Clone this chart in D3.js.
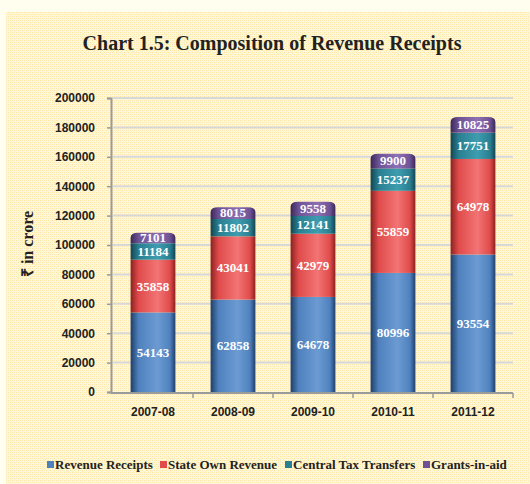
<!DOCTYPE html>
<html><head><meta charset="utf-8">
<script src="https://cdn.jsdelivr.net/npm/d3@7"></script>
<style>html,body{margin:0;padding:0;background:#FFFEEF;}svg{display:block;}</style>
</head><body>
<svg id="c" width="530" height="484"></svg>
<script>
const categories = ["2007-08","2008-09","2009-10","2010-11","2011-12"];
const seriesNames = ["Revenue Receipts","State Own Revenue","Central Tax Transfers","Grants-in-aid"];
const revenueReceipts = [54143,62858,64678,80996,93554];
const stateOwnRevenue = [35858,43041,42979,55859,64978];
const centralTaxTransfers = [11184,11802,12141,15237,17751];
const grantsInAid = [7101,8015,9558,9900,10825];
const yTicks = [0,20000,40000,60000,80000,100000,120000,140000,160000,180000,200000];

const colors = [
  {light:"#6C9BD2", mid:"#4F81BD", dark:"#1F3F6A"},
  {light:"#F27474", mid:"#E04B4B", dark:"#8E2020"},
  {light:"#3E9DAF", mid:"#2A7F92", dark:"#134552"},
  {light:"#8E70B5", mid:"#6E5294", dark:"#3A2858"}
];

const svg = d3.select("#c");
const defs = svg.append("defs");
const pat = defs.append("pattern").attr("id","bgp").attr("width",4).attr("height",4).attr("patternUnits","userSpaceOnUse");
pat.append("rect").attr("width",4).attr("height",4).attr("fill","#FFF6D8");
pat.append("rect").attr("x",0).attr("y",0).attr("width",1).attr("height",1).attr("fill","#FBE6A4");
pat.append("rect").attr("x",2).attr("y",2).attr("width",1).attr("height",1).attr("fill","#FBE6A4");
pat.append("rect").attr("x",2).attr("y",0).attr("width",1).attr("height",1).attr("fill","#FDEFC0");
pat.append("rect").attr("x",0).attr("y",2).attr("width",1).attr("height",1).attr("fill","#FDEFC0");

colors.forEach((c,i)=>{
  const g = defs.append("linearGradient").attr("id","g"+i).attr("x1","0").attr("x2","1").attr("y1","0").attr("y2","0");
  g.append("stop").attr("offset","0%").attr("stop-color",c.dark);
  g.append("stop").attr("offset","18%").attr("stop-color",c.mid);
  g.append("stop").attr("offset","60%").attr("stop-color",c.light);
  g.append("stop").attr("offset","88%").attr("stop-color",c.mid);
  g.append("stop").attr("offset","100%").attr("stop-color",c.dark);
});

svg.append("rect").attr("x",6).attr("y",12).attr("width",524).attr("height",472).attr("fill","url(#bgp)");

svg.append("text").attr("x",272).attr("y",50).attr("text-anchor","middle")
  .style("font-family","'Liberation Serif','Times New Roman',serif").style("font-weight","bold").style("font-size","20px")
  .attr("fill","#222").text("Chart 1.5: Composition of Revenue Receipts");

const x = d3.scaleBand().domain(categories).range([113,513]).paddingInner(0.44).paddingOuter(0.22);
const y = d3.scaleLinear().domain([0,200000]).range([392,98]);

// gridlines
svg.append("g").selectAll("line").data(yTicks.slice(1)).join("line")
  .attr("x1",113).attr("x2",513).attr("y1",d=>y(d)).attr("y2",d=>y(d))
  .attr("stroke","#D8D8D8").attr("stroke-width",2);

// y axis
const yAxis = svg.append("g").attr("transform","translate(111,0)")
  .call(d3.axisLeft(y).tickValues(yTicks).tickSize(4).tickPadding(12).tickFormat(d3.format("d")));
yAxis.select(".domain").attr("stroke","#9A9A9A").attr("stroke-width",2);
yAxis.selectAll(".tick line").attr("stroke","#9A9A9A").attr("stroke-width",1.5);
yAxis.selectAll("text").style("font-family","'Liberation Sans',Arial,sans-serif").style("font-weight","bold").style("font-size","12px").attr("fill","#222");

// x axis
const xAxis = svg.append("g").attr("transform","translate(0,393)")
  .call(d3.axisBottom(x).tickSize(0).tickPadding(14));
xAxis.select(".domain").attr("stroke","#9A9A9A").attr("stroke-width",2).attr("d","M111,0H513");
xAxis.selectAll("text").style("font-family","'Liberation Sans',Arial,sans-serif").style("font-weight","bold").style("font-size","12px").attr("fill","#222");
const bandEdges = categories.map((c,i)=>113 + (i+1)*x.step()*(400/ (x.step()*5)));
svg.append("g").selectAll("line").data(bandEdges).join("line")
  .attr("x1",d=>d).attr("x2",d=>d).attr("y1",393).attr("y2",398).attr("stroke","#9A9A9A").attr("stroke-width",1.5);

// stacked data
const rows = categories.map((c,i)=>({cat:c, v:[revenueReceipts[i],stateOwnRevenue[i],centralTaxTransfers[i],grantsInAid[i]]}));
const stack = d3.stack().keys([0,1,2,3]).value((d,k)=>d.v[k]);
const stacked = stack(rows);

const bw = x.bandwidth();
const capR = 5;
stacked.forEach((layer,li)=>{
  const g = svg.append("g");
  layer.forEach((s,ci)=>{
    const x0 = x(categories[ci]);
    const yTop = y(s[1]), yBot = y(s[0]);
    if(li===3){
      g.append("path").attr("d",`M${x0},${yBot}V${yTop+capR}Q${x0},${yTop} ${x0+capR*1.5},${yTop}H${x0+bw-capR*1.5}Q${x0+bw},${yTop} ${x0+bw},${yTop+capR}V${yBot}Z`)
        .attr("fill","url(#g"+li+")");
    } else {
      g.append("rect").attr("x",x0).attr("y",yTop).attr("width",bw).attr("height",yBot-yTop).attr("fill","url(#g"+li+")");
    }
    g.append("text").attr("x",x0+bw/2).attr("y",(yTop+yBot)/2+ (li===3?4:4.5)).attr("text-anchor","middle")
      .style("font-family","'Liberation Serif','Times New Roman',serif").style("font-weight","bold").style("font-size","13px")
      .attr("fill","#FFFFFF").text(s.data.v[li]);
  });
});

// y title
svg.append("text").attr("transform","translate(33,244) rotate(-90)").attr("text-anchor","middle")
  .style("font-family","'Liberation Serif','Times New Roman',serif").style("font-weight","bold").style("font-size","16px")
  .attr("fill","#222").text("₹ in crore");

// legend
const legX = [47,160,285,423];
const leg = svg.append("g");
seriesNames.forEach((n,i)=>{
  leg.append("rect").attr("x",legX[i]).attr("y",461).attr("width",7).attr("height",7).attr("fill",colors[i].mid);
  leg.append("text").attr("x",legX[i]+8).attr("y",469)
    .style("font-family","'Liberation Serif','Times New Roman',serif").style("font-weight","bold").style("font-size","13px")
    .attr("fill","#222").text(n);
});
</script>
</body></html>
